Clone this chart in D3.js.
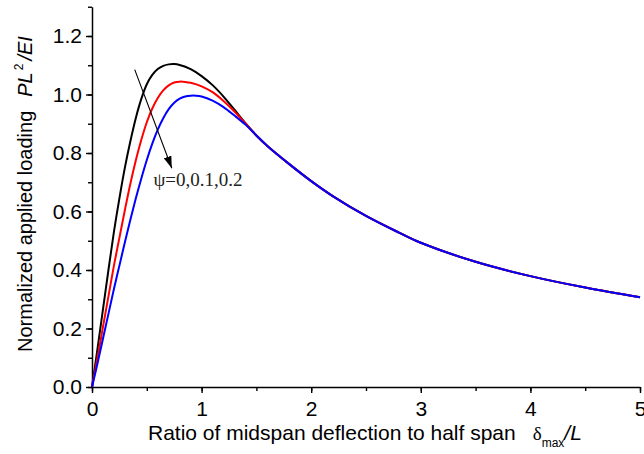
<!DOCTYPE html>
<html>
<head>
<meta charset="utf-8">
<script src="https://cdn.jsdelivr.net/npm/d3@7/dist/d3.min.js"></script>
<style>
  html, body { margin: 0; padding: 0; background: #fff; }
  svg { display: block; }
</style>
</head>
<body>
<svg id="chart" width="644" height="454"></svg>
<script>
// ---- data ----
const xTicks = [0, 1, 2, 3, 4, 5];
const yTicks = [0.0, 0.2, 0.4, 0.6, 0.8, 1.0, 1.2];

// common descending branch shared by all three curves
const tailX = [1.5, 1.6, 1.8, 2.0, 2.2, 2.5, 2.8, 3.0, 3.5, 4.0, 4.5, 5.0];
const tailY = [0.860, 0.824, 0.762, 0.704, 0.652, 0.585, 0.528, 0.493, 0.428, 0.379, 0.340, 0.307];

// psi = 0 (black)
const psi0X = [0, 0.05, 0.10, 0.15, 0.20, 0.25, 0.30, 0.35, 0.40, 0.45, 0.50, 0.55, 0.60, 0.65, 0.70, 0.75, 0.80, 0.90, 1.00, 1.10, 1.20, 1.30, 1.40];
const psi0Y = [0, 0.13, 0.265, 0.40, 0.53, 0.645, 0.75, 0.84, 0.92, 0.985, 1.035, 1.067, 1.087, 1.098, 1.103, 1.104, 1.101, 1.087, 1.063, 1.032, 0.993, 0.948, 0.902];

// psi = 0.1 (red)
const psi1X = [0, 0.05, 0.10, 0.15, 0.20, 0.25, 0.30, 0.35, 0.40, 0.45, 0.50, 0.55, 0.60, 0.65, 0.70, 0.75, 0.80, 0.85, 0.90, 1.00, 1.10, 1.20, 1.30, 1.40];
const psi1Y = [0, 0.10, 0.205, 0.31, 0.415, 0.51, 0.605, 0.695, 0.775, 0.845, 0.905, 0.952, 0.988, 1.014, 1.031, 1.041, 1.044, 1.043, 1.040, 1.028, 1.008, 0.978, 0.942, 0.901];

// psi = 0.2 (blue)
const psi2X = [0, 0.05, 0.10, 0.15, 0.20, 0.25, 0.30, 0.35, 0.40, 0.45, 0.50, 0.55, 0.60, 0.65, 0.70, 0.75, 0.80, 0.85, 0.90, 0.95, 1.00, 1.10, 1.20, 1.30, 1.40];
const psi2Y = [0, 0.08, 0.165, 0.25, 0.335, 0.415, 0.495, 0.572, 0.645, 0.713, 0.776, 0.832, 0.880, 0.919, 0.950, 0.972, 0.986, 0.993, 0.996, 0.996, 0.993, 0.979, 0.957, 0.928, 0.897];

const seriesNames = ["psi0", "psi1", "psi2"];
const seriesColors = ["#000000", "#ff0000", "#0000ff"];

// annotation (data coordinates)
const arrowFrom = [0.39, 1.085];
const arrowTo = [0.728, 0.748];
const noteText = "ψ=0,0.1,0.2";
const notePos = [0.56, 0.687];

// ---- chart ----
const svg = d3.select("#chart");
const x = d3.scaleLinear().domain([0, 5]).range([92, 640]);
const y = d3.scaleLinear().domain([0, 1.3]).range([387, 6.75]);

const sans = "'Liberation Sans', Arial, sans-serif";
const serif = "'Liberation Serif', 'Times New Roman', serif";

svg.append("rect").attr("width", 644).attr("height", 454).attr("fill", "#fff");

// minor ticks
svg.append("g").attr("transform", "translate(0,387)")
  .call(d3.axisBottom(x).tickValues(d3.range(0, 5.01, 0.5)).tickSize(4).tickSizeOuter(0).tickFormat(""))
  .call(g => g.select(".domain").remove())
  .call(g => g.selectAll("line").attr("stroke-width", 1.4));
svg.append("g").attr("transform", "translate(92,0)")
  .call(d3.axisLeft(y).tickValues(d3.range(0, 1.301, 0.1)).tickSize(4).tickSizeOuter(0).tickFormat(""))
  .call(g => g.select(".domain").remove())
  .call(g => g.selectAll("line").attr("stroke-width", 1.4));

// major axes
const xAxis = svg.append("g").attr("transform", "translate(0,387)")
  .call(d3.axisBottom(x).tickValues(xTicks).tickSize(6).tickPadding(8).tickSizeOuter(0).tickFormat(d3.format("d")));
const yAxis = svg.append("g").attr("transform", "translate(92,0)")
  .call(d3.axisLeft(y).tickValues(yTicks).tickSize(6).tickPadding(4).tickSizeOuter(0).tickFormat(d3.format(".1f")));
[xAxis, yAxis].forEach(g => {
  g.select(".domain").attr("stroke-width", 1.5);
  g.selectAll("line").attr("stroke-width", 1.4);
  g.selectAll("text").attr("font-family", sans).attr("font-size", 21).attr("fill", "#000");
});

// curves
const line = d3.line().x(d => x(d[0])).y(d => y(d[1])).curve(d3.curveCatmullRom.alpha(0.5));
const tail = tailX.map((v, i) => [v, tailY[i]]);
const raw = [[psi0X, psi0Y], [psi1X, psi1Y], [psi2X, psi2Y]];
raw.forEach(([xs, ys], k) => {
  const pts = xs.map((v, i) => [v, ys[i]]).concat(tail);
  svg.append("path").datum(pts)
    .attr("class", seriesNames[k])
    .attr("fill", "none")
    .attr("stroke", seriesColors[k])
    .attr("stroke-width", 2)
    .attr("stroke-linejoin", "round")
    .attr("d", line);
});

// arrow annotation
const defs = svg.append("defs");
defs.append("marker").attr("id", "ah")
  .attr("viewBox", "0 0 12 8").attr("refX", 12).attr("refY", 4)
  .attr("markerWidth", 12).attr("markerHeight", 8).attr("markerUnits", "userSpaceOnUse")
  .attr("orient", "auto")
  .append("path").attr("d", "M0,0 L12,4 L0,8 Z").attr("fill", "#000");
svg.append("line")
  .attr("x1", x(arrowFrom[0])).attr("y1", y(arrowFrom[1]))
  .attr("x2", x(arrowTo[0])).attr("y2", y(arrowTo[1]))
  .attr("stroke", "#000").attr("stroke-width", 1.1)
  .attr("marker-end", "url(#ah)");
svg.append("text")
  .attr("x", x(notePos[0])).attr("y", y(notePos[1]))
  .attr("font-family", serif).attr("font-size", 19).attr("fill", "#222")
  .text(noteText);

// x axis title
const xt = svg.append("text").attr("x", 148).attr("y", 440)
  .attr("font-family", sans).attr("font-size", 21).attr("fill", "#000");
xt.append("tspan").text("Ratio of midspan deflection to half span");
xt.append("tspan").attr("dx", 17).attr("font-family", serif).attr("font-size", 19).text("δ");
xt.append("tspan").attr("font-size", 12).attr("dy", 7).text("max");
xt.append("tspan").attr("dy", -7).attr("font-style", "italic").text("/L");

// y axis title
const yt = svg.append("text").attr("transform", "translate(32,352) rotate(-90)")
  .attr("font-family", sans).attr("font-size", 20).attr("fill", "#000");
yt.append("tspan").text("Normalized applied loading");
yt.append("tspan").attr("dx", 14).attr("font-style", "italic").text("PL");
yt.append("tspan").attr("font-size", 12).attr("dy", -9).attr("dx", 2).text("2");
yt.append("tspan").attr("dy", 9).attr("dx", 3).attr("font-style", "italic").text("/EI");
</script>
</body>
</html>
